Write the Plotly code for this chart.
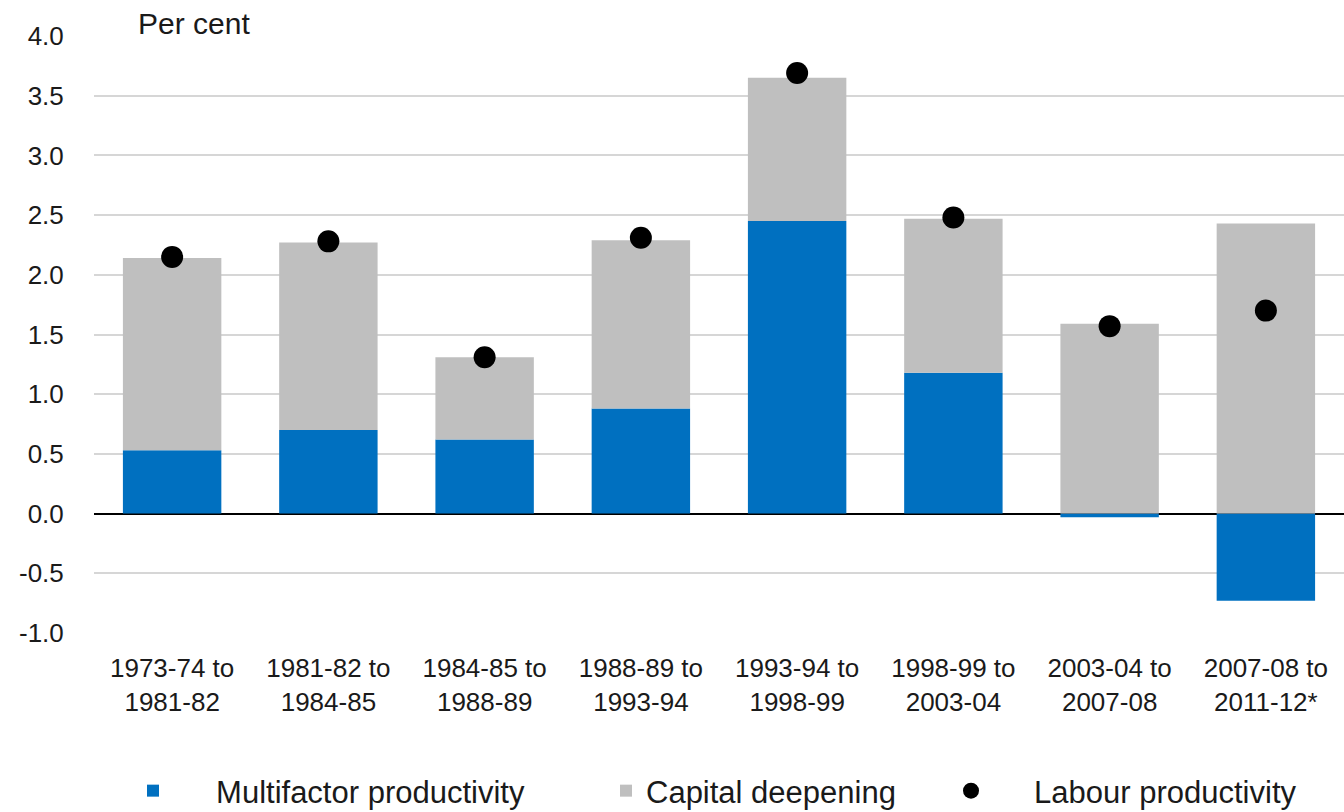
import plotly.graph_objects as go

categories = ["1973-74 to<br>1981-82", "1981-82 to<br>1984-85", "1984-85 to<br>1988-89",
              "1988-89 to<br>1993-94", "1993-94 to<br>1998-99", "1998-99 to<br>2003-04",
              "2003-04 to<br>2007-08", "2007-08 to<br>2011-12*"]
multifactor = [0.53, 0.70, 0.62, 0.88, 2.45, 1.18, -0.03, -0.73]
capital_deepening = [1.61, 1.57, 0.69, 1.41, 1.20, 1.29, 1.59, 2.43]
labour = [2.15, 2.28, 1.31, 2.31, 3.69, 2.48, 1.57, 1.70]
y_ticks = [-1.0, -0.5, 0.0, 0.5, 1.0, 1.5, 2.0, 2.5, 3.0, 3.5, 4.0]

NB = "\u00a0"
TXT = "#1a1a1a"
FONT = "Liberation Sans, Arial, sans-serif"

fig = go.Figure()
fig.add_trace(go.Bar(x=categories, y=multifactor, name=NB * 5 + "Multifactor productivity",
                     marker=dict(color="#0070C0", line=dict(width=0)), legend="legend"))
fig.add_trace(go.Bar(x=categories, y=capital_deepening, name="Capital deepening",
                     marker=dict(color="#BFBFBF", line=dict(width=0)), legend="legend2"))
fig.add_trace(go.Scatter(x=categories, y=labour, name=NB * 5 + "Labour productivity", mode="markers",
                         marker=dict(color="black", size=22), legend="legend3"))

W, H = 1344, 812
L, R, T, B = 94, 0, 36, 179
PW = W - L - R
PH = H - T - B


def lx(screen_x):
    return (screen_x - L) / PW


def ly(screen_y):
    return (T + PH - screen_y) / PH


legend_font = dict(family=FONT, size=31, color=TXT)
common = dict(orientation="h", yanchor="middle", xanchor="left", font=legend_font,
              itemwidth=30, bgcolor="rgba(0,0,0,0)", borderwidth=0)

fig.update_layout(
    width=W, height=H,
    barmode="relative", bargap=0.37,
    plot_bgcolor="white", paper_bgcolor="white",
    margin=dict(l=L, r=R, t=T, b=B, autoexpand=False),
    font=dict(family=FONT, size=26, color=TXT),
    showlegend=True,
    legend=dict(x=lx(133), y=ly(791), **common),
    legend2=dict(x=lx(606), y=ly(791), **common),
    legend3=dict(x=lx(951), y=ly(791), **common),
    annotations=[dict(text="Per cent", xref="paper", yref="paper", x=lx(136), y=1.0,
                      xanchor="left", yanchor="bottom", showarrow=False,
                      font=dict(family=FONT, size=30, color=TXT), yshift=-6)],
)
fig.update_yaxes(range=[-1.0, 4.0], tickvals=y_ticks, ticktext=[f"{v:.1f}" for v in y_ticks],
                 showgrid=True, gridcolor="#D6D6D6", gridwidth=2,
                 zeroline=True, zerolinecolor="black", zerolinewidth=2,
                 ticks="outside", ticklen=24, tickcolor="rgba(0,0,0,0)", showline=False)
fig.update_xaxes(showgrid=False, showline=False, ticks="outside", ticklen=12,
                 tickcolor="rgba(0,0,0,0)", tickfont=dict(family=FONT, size=26, color=TXT))

fig.write_html("out.html", config={"displayModeBar": False},
               post_script="document.body.style.margin='0';document.body.style.overflow='hidden';")
